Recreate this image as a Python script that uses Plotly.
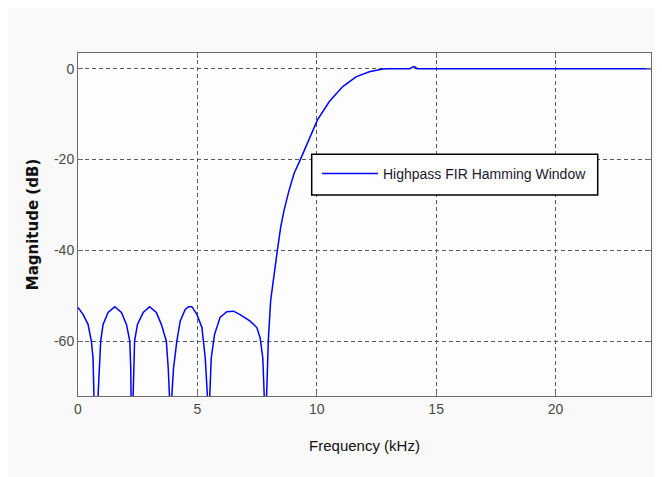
import plotly.graph_objects as go

# Frequency (kHz) and magnitude (dB)
freq_khz = [0.00, 0.21, 0.42, 0.56, 0.63, 0.70, 0.77, 0.84, 0.88, 0.95, 1.05, 1.26, 1.54, 1.82, 2.03,
            2.17, 2.21, 2.24, 2.27, 2.31, 2.37, 2.49, 2.73, 3.00, 3.28, 3.49, 3.70, 3.78, 3.83, 3.88,
            3.93, 4.00, 4.14, 4.28, 4.49, 4.63, 4.77, 4.98, 5.19, 5.33, 5.42, 5.47, 5.52, 5.58, 5.72,
            5.95, 6.23, 6.51, 6.77, 7.21, 7.49, 7.63, 7.74, 7.80, 7.84, 7.90, 7.97, 8.07, 8.21, 8.35,
            8.49, 8.63, 8.84, 9.05, 9.33, 9.68, 10.03, 10.52, 11.08, 11.64, 12.20, 12.76, 13.00, 13.90,
            13.97, 14.05, 14.13, 14.20, 24.00]
mag_db = [-52.6, -54.1, -56.3, -60.0, -63.7, -72.0, -95.0, -72.0, -66.0, -60.0, -56.3, -53.7, -52.4,
          -53.7, -56.3, -60.0, -66.0, -72.0, -95.0, -72.0, -60.0, -56.3, -53.7, -52.4, -53.7, -56.3,
          -60.0, -66.0, -72.0, -95.0, -72.0, -66.0, -60.0, -55.6, -53.0, -52.4, -52.4, -54.1, -57.0,
          -63.7, -72.0, -95.0, -72.0, -63.7, -58.5, -54.8, -53.5, -53.4, -54.1, -55.6, -57.0, -59.3,
          -63.7, -72.0, -95.0, -72.0, -60.0, -51.0, -45.1, -40.0, -34.9, -31.2, -26.8, -23.1, -19.8,
          -15.4, -11.3, -7.3, -4.0, -1.8, -0.7, -0.1, 0.0, 0.0, 0.3, 0.45, 0.3, 0.0, 0.0]

x_ticks = [0, 5, 10, 15, 20]
y_ticks = [0, -20, -40, -60]
series_name = "Highpass FIR Hamming Window"

OFF = 8  # page body margin
W, H = 654, 469
ML, MR, MT, MB = 70, 11, 45, 81
PW, PH = W - ML - MR, H - MT - MB


def px_x(p):
    return (p - OFF - ML) / PW


def px_y(p):
    return (H - MB - (p - OFF)) / PH


fig = go.Figure()
fig.add_trace(go.Scatter(x=freq_khz, y=mag_db, mode="lines", name=series_name,
                         line=dict(color="#0000ff", width=1.5)))

frame = "#6a6a6a"
axis_common = dict(showline=True, linecolor=frame, linewidth=1, mirror="ticks",
                   ticks="inside", ticklen=5, tickcolor=frame, tickwidth=1,
                   showgrid=True, gridcolor="#5a5a5a", gridwidth=1, griddash="4px,3px",
                   zeroline=False,
                   tickfont=dict(family="Liberation Sans, Arial", size=14, color="#4a4a4a"))

fig.update_xaxes(range=[0, 24], tickvals=x_ticks, ticktext=[str(v) for v in x_ticks],
                 title=dict(text="Frequency (kHz)", standoff=24,
                            font=dict(family="Liberation Sans, Arial", size=15, color="#111111")),
                 **axis_common)
fig.update_yaxes(range=[-72.07, 3.44], tickvals=y_ticks, ticktext=[str(v) for v in y_ticks],
                 title=dict(text="<b>Magnitude (dB)</b>", standoff=11,
                            font=dict(family="DejaVu Sans", size=15, color="#111111")),
                 **axis_common)

# legend frame
fig.add_shape(type="rect", xref="paper", yref="paper",
              x0=px_x(311.7), x1=px_x(597.7), y0=px_y(195), y1=px_y(154.3),
              fillcolor="#ffffff", line=dict(color="#000000", width=1.5), layer="above")

fig.update_layout(
    width=W, height=H,
    margin=dict(l=ML, r=MR, t=MT, b=MB),
    paper_bgcolor="#f9f9f9", plot_bgcolor="#fdfdfd",
    showlegend=True,
    legend=dict(x=px_x(317), y=px_y(174), xanchor="left", yanchor="middle",
                bgcolor="rgba(0,0,0,0)", borderwidth=0, itemwidth=56,
                font=dict(family="Liberation Sans, Arial", size=14, color="#1a1a2e")),
)

fig.write_html("out.html")
